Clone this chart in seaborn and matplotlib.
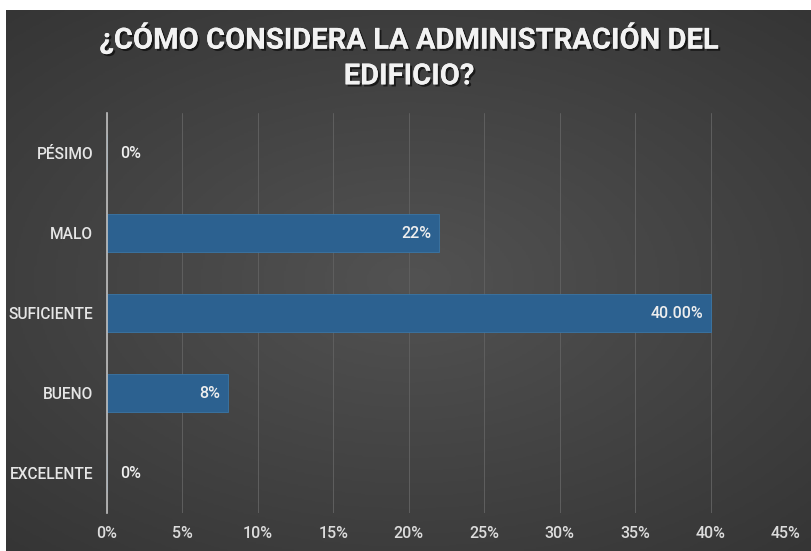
import numpy as np
import pandas as pd
import matplotlib
matplotlib.use("Agg")
import matplotlib.pyplot as plt
import matplotlib.patheffects as pe
import seaborn as sns

categories = ["PÉSIMO", "MALO", "SUFICIENTE", "BUENO", "EXCELENTE"]
values = [0, 22, 40, 8, 0]
value_labels = ["0%", "22%", "40.00%", "8%", "0%"]
xticks = [0, 5, 10, 15, 20, 25, 30, 35, 40, 45]
title = "¿CÓMO CONSIDERA LA ADMINISTRACIÓN DEL\nEDIFICIO?"

df = pd.DataFrame({"cat": categories, "val": values})

sns.set_theme(style="dark")
plt.rcParams["font.family"] = ["Roboto", "DejaVu Sans"]

W, H = 812, 551
fig = plt.figure(figsize=(W / 100, H / 100), dpi=100, facecolor="white")

# background panel with radial gradient
bg = fig.add_axes([6 / W, 0, 1 - 6 / W, 1 - 10 / H])
yy, xx = np.mgrid[-1:1:300j, -1:1:400j]
r = np.sqrt((xx * 1.0) ** 2 + (yy * 1.1) ** 2)
grad = np.clip(1 - r / 1.5, 0, 1)
bg.imshow(grad, cmap=matplotlib.colors.LinearSegmentedColormap.from_list(
    "g", ["#353535", "#525252"]), aspect="auto", extent=[0, 1, 0, 1], vmin=0, vmax=1)
bg.axis("off")

ax = fig.add_axes([107 / W, 1 - 513 / H, (786 - 107) / W, 400 / H])
ax.patch.set_alpha(0)
sns.barplot(data=df, x="val", y="cat", order=categories, orient="h",
            color="#2c6190", saturation=1, width=0.47, ax=ax,
            edgecolor="#3a76a6", linewidth=0.6, zorder=3)

ax.set_xlim(0, 45)
ax.set_ylim(4.5, -0.5)
ax.set_xticks(xticks)
ax.set_xticklabels([f"{t}%" for t in xticks], color="#dcdcdc", fontsize=11.5,
                   fontweight="medium")
for t in ax.get_yticklabels():
    t.set_fontweight("medium")
ax.tick_params(axis="x", length=0, pad=9)
ax.tick_params(axis="y", length=0, pad=10, labelsize=11.2, labelcolor="#e6e6e6")
ax.set_xlabel("")
ax.set_ylabel("")
for s in ["top", "right", "bottom"]:
    ax.spines[s].set_visible(False)
ax.spines["left"].set_color("#bfbfbf")
ax.spines["left"].set_linewidth(1.2)
ax.spines["left"].set_zorder(4)
ax.grid(axis="x", color="#5f5f5f", linewidth=0.7, zorder=0)
ax.grid(axis="y", visible=False)

for i, (v, lab) in enumerate(zip(values, value_labels)):
    if v > 0:
        ax.text(v - 0.5, i, lab, ha="right", va="center", color="#eeeeee",
                fontsize=11.5, fontweight="medium", zorder=5)
    else:
        ax.text(0.9, i, lab, ha="left", va="center", color="#eeeeee",
                fontsize=11.5, fontweight="medium", zorder=5)

fig.text(0.5 + 3 / W, 1 - 56 / H, title, ha="center", va="center",
         color="#f2f2f2", fontsize=21, fontweight="bold", linespacing=1.35,
         path_effects=[pe.withSimplePatchShadow(offset=(1.5, -1.5), shadow_rgbFace="black", alpha=0.6),
                       pe.Normal()])

fig.savefig("out.png", dpi=100, facecolor="white")
